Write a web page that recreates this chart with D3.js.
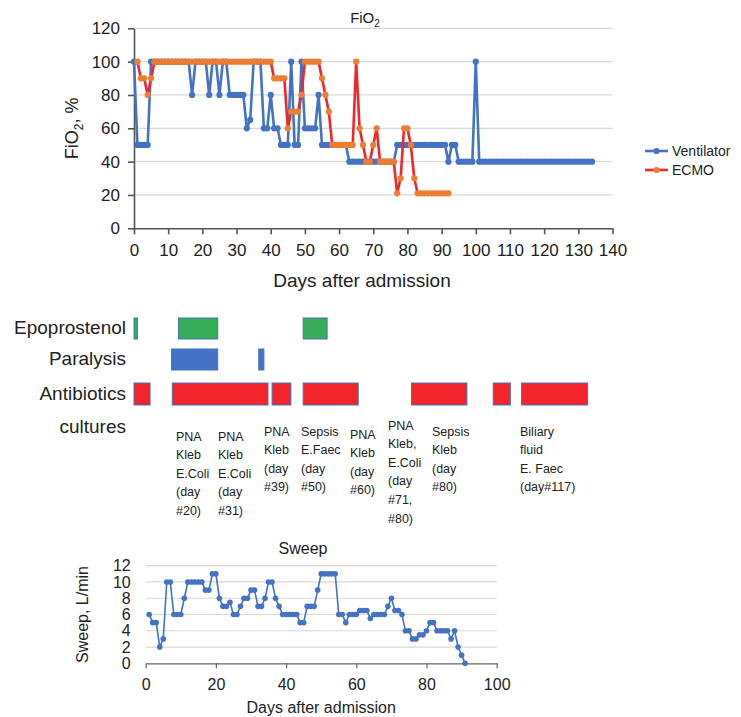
<!DOCTYPE html>
<html>
<head>
<meta charset="utf-8">
<script src="https://cdn.jsdelivr.net/npm/d3@7"></script>
<style>
  body { margin: 0; background: #fff; }
  svg { font-family: "Liberation Sans", Arial, sans-serif; }
</style>
</head>
<body>
<svg id="chart" width="741" height="717"></svg>
<script>
// FiO2 by day (ventilator from day 0, ECMO from day 1)
const ventStart = 0;
const ventilator = [
  100, 50, 50, 50, 50, 100, 100, 100, 100, 100,
  100, 100, 100, 100, 100, 100, 100, 80, 100, 100,
  100, 100, 80, 100, 100, 80, 100, 100, 80, 80,
  80, 80, 80, 60, 65, 100, 100, 100, 60, 60,
  80, 60, 60, 50, 50, 50, 100, 50, 50, 100,
  60, 60, 60, 60, 80, 50, 50, 50, 50, 50,
  50, 50, 50, 40, 40, 40, 40, 40, 40, 40,
  40, 40, 40, 40, 40, 40, 40, 50, 50, 50,
  50, 50, 50, 50, 50, 50, 50, 50, 50, 50,
  50, 50, 40, 50, 50, 40, 40, 40, 40, 40,
  100, 40, 40, 40, 40, 40, 40, 40, 40, 40,
  40, 40, 40, 40, 40, 40, 40, 40, 40, 40,
  40, 40, 40, 40, 40, 40, 40, 40, 40, 40,
  40, 40, 40, 40, 40
];
const ecmoStart = 1;
const ecmo = [
  100, 90, 90, 80, 90, 100, 100, 100, 100, 100,
  100, 100, 100, 100, 100, 100, 100, 100, 100, 100,
  100, 100, 100, 100, 100, 100, 100, 100, 100, 100,
  100, 100, 100, 100, 100, 100, 100, 100, 100, 100,
  90, 90, 90, 90, 60, 70, 70, 70, 80, 100,
  100, 100, 100, 100, 90, 80, 70, 50, 50, 50,
  50, 50, 50, 50, 100, 60, 50, 40, 40, 50,
  60, 40, 40, 40, 40, 40, 21, 30, 60, 60,
  50, 30, 21, 21, 21, 21, 21, 21, 21, 21,
  21, 21
];
const fio2Ticks = [0, 20, 40, 60, 80, 100, 120];
const dayTicks = [0, 10, 20, 30, 40, 50, 60, 70, 80, 90, 100, 110, 120, 130, 140];
const seriesNames = ['Ventilator', 'ECMO'];

// treatment periods [start day, end day]
const rowNames = ['Epoprostenol', 'Paralysis', 'Antibiotics', 'cultures'];
const epoprostenol = [[0, 1], [13, 24.5], [49.5, 56.5]];
const paralysis = [[11, 24.5], [36.5, 38]];
const antibiotics = [[0, 4.7], [11.2, 39.2], [40.4, 45.9], [49.5, 65.6], [81.2, 97.4], [105.1, 110.1], [113.4, 132.7]];
const cultures = [
  ['PNA', 'Kleb', 'E.Coli', '(day', '#20)'],
  ['PNA', 'Kleb', 'E.Coli', '(day', '#31)'],
  ['PNA', 'Kleb', '(day', '#39)'],
  ['Sepsis', 'E.Faec', '(day', '#50)'],
  ['PNA', 'Kleb', '(day', '#60)'],
  ['PNA', 'Kleb,', 'E.Coli', '(day', '#71,', '#80)'],
  ['Sepsis', 'Kleb', '(day', '#80)'],
  ['Biliary', 'fluid', 'E. Faec', '(day#117)']
];

// sweep L/min by day, from day 1
const sweepStart = 1;
const sweep = [
  6, 5, 5, 2, 3, 10, 10, 6, 6, 6,
  8, 10, 10, 10, 10, 10, 9, 9, 11, 11,
  8, 7, 7, 7.5, 6, 6, 7, 8, 8, 9,
  9, 7, 7, 8, 10, 10, 8, 7, 6, 6,
  6, 6, 6, 5, 5, 7, 7, 7, 9, 11,
  11, 11, 11, 11, 6, 6, 5, 6, 6, 6,
  6.5, 6.5, 6.5, 5.5, 6, 6, 6, 6, 7, 8,
  6.5, 6.5, 6, 4, 4, 3, 3, 3.5, 3.5, 4,
  5, 5, 4, 4, 4, 4, 3, 4, 2, 1,
  0
];
const sweepTicks = [0, 2, 4, 6, 8, 10, 12];
const sweepDayTicks = [0, 20, 40, 60, 80, 100];

const BLUE = '#4472c4';
const ORANGE = '#ed7d31';
const RED = '#f2262a';
const GREEN = '#37ad58';
const GRID = '#d9d9d9';
const TEXT = '#222';

const svg = d3.select('#chart');

// ---------- FiO2 chart ----------
const x = d3.scaleLinear().domain([0, 140]).range([134, 612.5]);
const y = d3.scaleLinear().domain([0, 120]).range([228.3, 28.3]);

svg.append('g').selectAll('line')
  .data(fio2Ticks.slice(1))
  .join('line')
  .attr('x1', x(0)).attr('x2', x(140))
  .attr('y1', d => y(d)).attr('y2', d => y(d))
  .attr('stroke', GRID).attr('stroke-width', 1.3);

const yAxis = svg.append('g')
  .attr('transform', `translate(${x(0)},0)`)
  .call(d3.axisLeft(y).tickValues(fio2Ticks).tickSize(6).tickPadding(8).tickSizeOuter(0));
const xAxis = svg.append('g')
  .attr('transform', `translate(0,${y(0)})`)
  .call(d3.axisBottom(x).tickValues(dayTicks).tickSize(6).tickPadding(10).tickSizeOuter(0));
[yAxis, xAxis].forEach(g => {
  g.selectAll('path,line').attr('stroke', '#555').attr('stroke-width', 1.6);
  g.selectAll('text').attr('font-size', 17).attr('fill', TEXT).attr('font-family', null);
});

const fio2Line = d3.line().x(d => x(d.day)).y(d => y(d.v));
const ventData = ventilator.map((v, i) => ({ day: ventStart + i, v }));
const ecmoData = ecmo.map((v, i) => ({ day: ecmoStart + i, v }));

svg.append('path').datum(ventData)
  .attr('fill', 'none').attr('stroke', BLUE).attr('stroke-width', 2.6)
  .attr('stroke-linejoin', 'round').attr('d', fio2Line);
svg.append('g').selectAll('circle').data(ventData).join('circle')
  .attr('cx', d => x(d.day)).attr('cy', d => y(d.v)).attr('r', 3.1).attr('fill', BLUE);

svg.append('path').datum(ecmoData)
  .attr('fill', 'none').attr('stroke', RED).attr('stroke-width', 2.6)
  .attr('stroke-linejoin', 'round').attr('d', fio2Line);
svg.append('g').selectAll('circle').data(ecmoData).join('circle')
  .attr('cx', d => x(d.day)).attr('cy', d => y(d.v)).attr('r', 3.1).attr('fill', ORANGE);

// title
const title = svg.append('text').attr('x', 365).attr('y', 23)
  .attr('text-anchor', 'middle').attr('font-size', 15).attr('fill', TEXT);
title.append('tspan').text('FiO');
title.append('tspan').attr('font-size', 10).attr('dy', 4).text('2');

const yTitle = svg.append('text')
  .attr('transform', `translate(78,${y(60)}) rotate(-90)`)
  .attr('text-anchor', 'middle').attr('font-size', 18).attr('fill', TEXT);
yTitle.append('tspan').text('FiO');
yTitle.append('tspan').attr('font-size', 12).attr('dy', 5).text('2');
yTitle.append('tspan').attr('dy', -5).text(', %');

svg.append('text').attr('x', 362).attr('y', 287)
  .attr('text-anchor', 'middle').attr('font-size', 19).attr('fill', TEXT)
  .text('Days after admission');

// legend
const legend = svg.append('g').attr('transform', 'translate(645,151)');
seriesNames.forEach((name, i) => {
  const g = legend.append('g').attr('transform', `translate(0,${i * 19})`);
  g.append('line').attr('x1', 0).attr('x2', 23).attr('y1', 0).attr('y2', 0)
    .attr('stroke', i === 0 ? BLUE : RED).attr('stroke-width', 2.6);
  g.append('circle').attr('cx', 11.5).attr('cy', 0).attr('r', 3.1).attr('fill', i === 0 ? BLUE : ORANGE);
  g.append('text').attr('x', 27).attr('y', 5).attr('font-size', 14).attr('fill', TEXT).text(name);
});

// ---------- treatment timeline ----------
const rows = [
  { data: epoprostenol, color: GREEN, y0: 318, h: 21 },
  { data: paralysis, color: BLUE, y0: 349, h: 21 },
  { data: antibiotics, color: RED, y0: 383, h: 22 }
];
const labelY = [327, 358, 393, 426];

rowNames.forEach((name, i) => {
  svg.append('text').attr('x', 126).attr('y', labelY[i] + 6.5)
    .attr('text-anchor', 'end').attr('font-size', 19).attr('fill', TEXT).text(name);
});

rows.forEach(row => {
  svg.append('g').selectAll('rect').data(row.data).join('rect')
    .attr('x', d => x(d[0])).attr('width', d => x(d[1]) - x(d[0]))
    .attr('y', row.y0).attr('height', row.h)
    .attr('fill', row.color).attr('stroke', BLUE).attr('stroke-width', 1);
});

const cultureX = [176, 218, 264, 301, 350, 388, 432, 520];
const cultureY = [436, 436, 431, 431, 434, 425, 431, 431];
cultures.forEach((lines, i) => {
  const t = svg.append('text').attr('font-size', 12.5).attr('fill', TEXT);
  lines.forEach((line, j) => {
    t.append('tspan').attr('x', cultureX[i]).attr('y', cultureY[i] + 4.5 + j * 18.6).text(line);
  });
});

// ---------- Sweep chart ----------
const sx = d3.scaleLinear().domain([0, 100]).range([145.7, 496.7]);
const sy = d3.scaleLinear().domain([0, 12]).range([663.3, 565.7]);

svg.append('g').selectAll('line')
  .data(sweepTicks.slice(1))
  .join('line')
  .attr('x1', sx(0)).attr('x2', sx(100))
  .attr('y1', d => sy(d)).attr('y2', d => sy(d))
  .attr('stroke', GRID).attr('stroke-width', 1.2);

const syAxis = svg.append('g')
  .attr('transform', `translate(${sx(0)},0)`)
  .call(d3.axisLeft(sy).tickValues(sweepTicks).tickSize(0).tickPadding(15));
syAxis.select('.domain').remove();
const sxAxis = svg.append('g')
  .attr('transform', `translate(0,${sy(0)})`)
  .call(d3.axisBottom(sx).tickValues(sweepDayTicks).tickSize(5).tickPadding(10).tickSizeOuter(0));
[syAxis, sxAxis].forEach(g => {
  g.selectAll('path,line').attr('stroke', '#666').attr('stroke-width', 1.2);
  g.selectAll('text').attr('font-size', 16).attr('fill', TEXT).attr('font-family', null);
});

const sweepData = sweep.map((v, i) => ({ day: sweepStart + i, v }));
svg.append('path').datum(sweepData)
  .attr('fill', 'none').attr('stroke', BLUE).attr('stroke-width', 1.6)
  .attr('d', d3.line().x(d => sx(d.day)).y(d => sy(d.v)));
svg.append('g').selectAll('circle').data(sweepData).join('circle')
  .attr('cx', d => sx(d.day)).attr('cy', d => sy(d.v)).attr('r', 2.8).attr('fill', BLUE);

svg.append('text').attr('x', 303).attr('y', 554)
  .attr('text-anchor', 'middle').attr('font-size', 16).attr('fill', TEXT).text('Sweep');
svg.append('text')
  .attr('transform', `translate(88,${sy(6)}) rotate(-90)`)
  .attr('text-anchor', 'middle').attr('font-size', 16).attr('fill', TEXT).text('Sweep, L/min');
svg.append('text').attr('x', sx(50)).attr('y', 713)
  .attr('text-anchor', 'middle').attr('font-size', 16).attr('fill', TEXT).text('Days after admission');
</script>
</body>
</html>
